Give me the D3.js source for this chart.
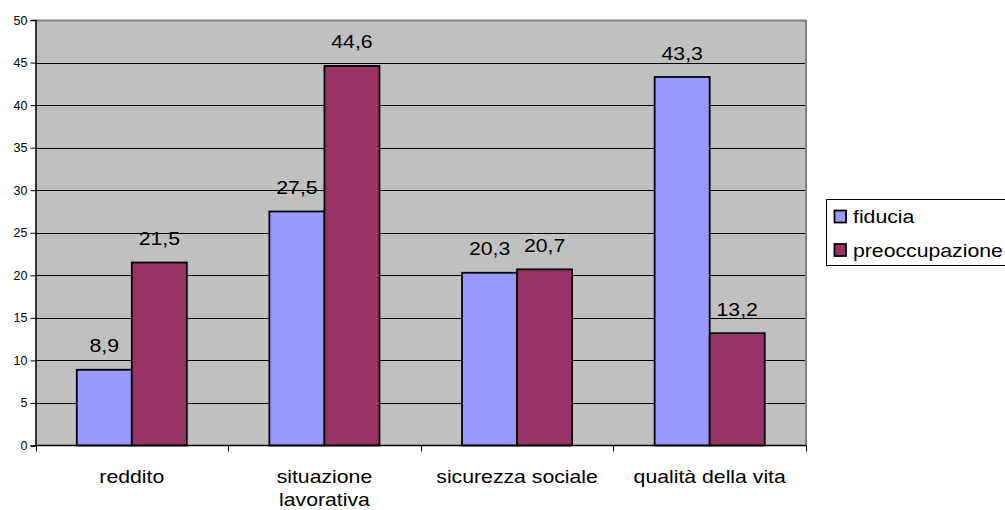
<!DOCTYPE html>
<html>
<head>
<meta charset="utf-8">
<script src="https://cdn.jsdelivr.net/npm/d3@7"></script>
<style>
  html, body { margin: 0; padding: 0; background: #fff; }
  svg { display: block; font-family: "Liberation Sans", Arial, sans-serif; }
</style>
</head>
<body>
<svg id="chart" width="1005" height="510"></svg>
<script>
// Categories and series
const categories = [["reddito"], ["situazione", "lavorativa"], ["sicurezza sociale"], ["qualità della vita"]];
const seriesNames = ["fiducia", "preoccupazione"];
const fiducia = [8.9, 27.5, 20.3, 43.3];
const preoccupazione = [21.5, 44.6, 20.7, 13.2];
const yTicks = [0, 5, 10, 15, 20, 25, 30, 35, 40, 45, 50];
const colors = ["#9999FF", "#993366"];

const series = [fiducia, preoccupazione];
const fmt = v => String(v).replace(".", ",");

// text in this chart is slightly wider than it is tall
const SX = 1.18;
const FS = 18;

const svg = d3.select("#chart");
const plot = { left: 35.5, right: 806, top: 20, bottom: 445.5 };

// place a horizontally stretched text at (x, y)
function stretchedText(parent, x, y, str, anchor, size) {
  const g = parent.append("g").attr("transform", `translate(${x},${y}) scale(${SX},1)`);
  g.append("text")
    .attr("x", 0).attr("y", 0)
    .attr("text-anchor", anchor)
    .attr("font-size", size)
    .attr("fill", "#000")
    .text(str);
  return g;
}

const x = d3.scaleBand()
  .domain(d3.range(categories.length))
  .range([plot.left, plot.right])
  .paddingInner(0).paddingOuter(0);

const xInner = d3.scaleBand()
  .domain(d3.range(seriesNames.length))
  .range([0, x.bandwidth()])
  .paddingOuter(0.75)
  .paddingInner(0);

const y = d3.scaleLinear().domain([0, 50]).range([plot.bottom, plot.top]);

// plot background
svg.append("rect")
  .attr("x", plot.left).attr("y", plot.top)
  .attr("width", plot.right - plot.left).attr("height", plot.bottom - plot.top)
  .attr("fill", "#C0C0C0");

// gridlines
svg.append("g")
  .selectAll("line")
  .data(yTicks.filter(t => t > 0 && t < 50))
  .join("line")
  .attr("x1", plot.left).attr("x2", plot.right)
  .attr("y1", d => Math.round(y(d)) + 0.5).attr("y2", d => Math.round(y(d)) + 0.5)
  .attr("stroke", "#000").attr("stroke-width", 1);

// top and right border of the plot area
svg.append("path")
  .attr("d", `M${plot.left},${plot.top + 0.5}H${plot.right}V${plot.bottom}`)
  .attr("fill", "none").attr("stroke", "#808080").attr("stroke-width", 2);

// bars
const cells = [];
categories.forEach((c, i) => series.forEach((s, k) => cells.push({ i, k, v: s[i] })));

svg.append("g").selectAll("rect")
  .data(cells)
  .join("rect")
  .attr("x", d => x(d.i) + xInner(d.k))
  .attr("y", d => y(d.v))
  .attr("width", xInner.bandwidth())
  .attr("height", d => y(0) - y(d.v))
  .attr("fill", d => colors[d.k])
  .attr("stroke", "#000").attr("stroke-width", 1.8);

// value labels
const vals = svg.append("g");
cells.forEach(d => {
  stretchedText(vals, x(d.i) + xInner(d.k) + xInner.bandwidth() / 2, y(d.v) - 17.5, fmt(d.v), "middle", FS);
});

// y axis
const yAxis = d3.axisLeft(y).tickValues(yTicks).tickSize(5).tickPadding(3).tickFormat(d => d);
const yg = svg.append("g").attr("transform", `translate(${plot.left},0)`).call(yAxis);
yg.select(".domain").attr("stroke", "#000").attr("stroke-width", 1.5);
yg.selectAll(".tick line").attr("stroke", "#000");
yg.selectAll(".tick text")
  .attr("font-size", 12.5)
  .attr("font-family", "Liberation Sans, Arial, sans-serif")
  .attr("fill", "#000");

// x axis line and ticks at category boundaries
const xg = svg.append("g");
xg.append("line")
  .attr("x1", plot.left).attr("x2", plot.right)
  .attr("y1", plot.bottom).attr("y2", plot.bottom)
  .attr("stroke", "#000").attr("stroke-width", 1.5);
const bounds = d3.range(categories.length + 1).map(i => i < categories.length ? x(i) : x(i - 1) + x.bandwidth());
xg.selectAll("line.tick")
  .data(bounds)
  .join("line")
  .attr("class", "tick")
  .attr("x1", d => Math.round(d) + 0.5).attr("x2", d => Math.round(d) + 0.5)
  .attr("y1", plot.bottom).attr("y2", plot.bottom + 6)
  .attr("stroke", "#000");

// category labels
categories.forEach((lines, i) => {
  lines.forEach((ln, j) => {
    stretchedText(xg, x(i) + x.bandwidth() / 2, 483 + j * 23, ln, "middle", FS);
  });
});

// legend
const legend = svg.append("g");
legend.append("rect")
  .attr("x", 826.5).attr("y", 199.5).attr("width", 190).attr("height", 66)
  .attr("fill", "#fff").attr("stroke", "#000").attr("stroke-width", 1);
seriesNames.forEach((name, i) => {
  const cy = 216.5 + i * 33.5;
  legend.append("rect")
    .attr("x", 834.5).attr("y", cy - 6).attr("width", 11.5).attr("height", 12)
    .attr("fill", colors[i])
    .attr("stroke", "#000").attr("stroke-width", 1.8);
  stretchedText(legend, 853, cy + 6.5, name, "start", FS);
});
</script>
</body>
</html>
